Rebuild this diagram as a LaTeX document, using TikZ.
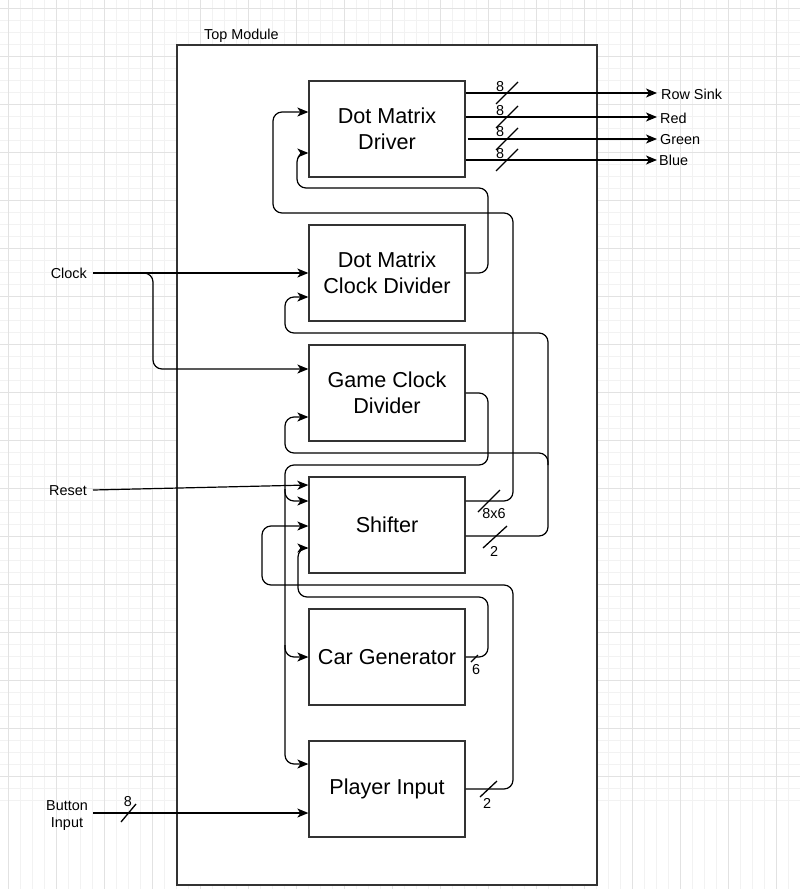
\documentclass[tikz,border=0pt]{standalone}
\usepackage{fontspec}
\setmainfont{Liberation Sans}
\usetikzlibrary{arrows.meta}
\definecolor{gridminor}{HTML}{F2F2F2}
\definecolor{gridmajor}{HTML}{E2E2E2}
\definecolor{boxline}{HTML}{333333}
\tikzset{
  blk/.style={draw=boxline, line width=1.3pt, fill=white, minimum width=156pt, minimum height=96pt, inner sep=0pt, align=center, font=\fontsize{21.6}{25.5}\selectfont},
  lbl/.style={font=\fontsize{14.4}{17}\selectfont, inner sep=0pt},
  wire/.style={line width=1.2pt, rounded corners=9pt},
  arr/.style={wire, -{Stealth[length=11pt,width=9pt,inset=3pt]}},
  bus/.style={line width=1.3pt}
}
\begin{document}
\begin{tikzpicture}[x=1pt,y=-1pt]
\useasboundingbox (0,0) rectangle (800,889);
\fill[white] (0,0) rectangle (800,889);
% grid
\foreach \g in {8,20,...,800} {
  \draw[gridminor, line width=0.8pt] (\g,0) -- (\g,889);
  \draw[gridminor, line width=0.8pt] (0,\g) -- (800,\g);
}
\foreach \g in {8,56,...,800} {
  \draw[gridmajor, line width=1pt] (\g,0) -- (\g,889);
  \draw[gridmajor, line width=1pt] (0,\g) -- (800,\g);
}
% module
\node (top) [draw=boxline, line width=1.3pt, fill=white, minimum width=420pt, minimum height=840pt, inner sep=0pt] at (387,465) {};
\node (toplbl) [lbl, anchor=base west] at (204,39) {Top Module};
% blocks
\node (dmd) [blk] at (387,129) {Dot Matrix\\Driver};
\node (dmcd) [blk] at (387,273) {Dot Matrix\\Clock Divider};
\node (gcd) [blk] at (387,393) {Game Clock\\Divider};
\node (sh) [blk] at (387,525) {Shifter};
\node (cg) [blk] at (387,657) {Car Generator};
\node (pl) [blk] at (387,789) {Player Input};
% external labels
\node (clk) [lbl, anchor=base east] at (87,278) {Clock};
\node (rst) [lbl, anchor=base east] at (87,495) {Reset};
\node (btn1) [lbl, anchor=base] at (67,810) {Button};
\node (btn2) [lbl, anchor=base] at (67,827) {Input};
\node (rs) [lbl, anchor=base west] at (661,99) {Row Sink};
\node (red) [lbl, anchor=base west] at (660,123) {Red};
\node (grn) [lbl, anchor=base west] at (660,144) {Green};
\node (blu) [lbl, anchor=base west] at (659,165) {Blue};
% junction coordinates
\coordinate (jclk) at (140,273);
\coordinate (jgs) at (285,489);
\coordinate (jgc) at (285,645);
\coordinate (jsh) at (548,465);
% DMD outputs
\draw[arr] (dmd.east |- 0,93) -- ([xshift=-4pt]rs.west |- 0,93);
\draw[arr] (dmd.east |- 0,117) -- ([xshift=-3pt]red.west |- 0,117);
\draw[arr] ([xshift=2pt]dmd.east |- 0,139) -- ([xshift=-3pt]grn.west |- 0,139);
\draw[arr] (dmd.east |- 0,160) -- ([xshift=-2pt]blu.west |- 0,160);
\foreach \yy in {93,117,139,160} {
  \draw[bus] (496,\yy+11) -- (518,\yy-11);
}
\node (b1) [lbl] at (500,87) {8};
\node (b2) [lbl] at (500,111) {8};
\node (b3) [lbl] at (500,132) {8};
\node (b4) [lbl] at (500,154) {8};
% Clock
\draw[arr] ([xshift=6pt]clk.east |- 0,273) -- (dmcd.west |- 0,273);
\draw[arr] (jclk) -- (153,273) -- (153,369) -- (gcd.west |- 0,369);
% DMCD -> DMD
\draw[arr] (dmcd.east |- 0,273) -- (488,273) -- (488,188) -- (297,188) -- (297,153) -- (dmd.west |- 0,153);
% Shifter 8x6 -> DMD
\draw[arr] (sh.east |- 0,501) -- (513,501) -- (513,213) -- (273,213) -- (273,112) -- (dmd.west |- 0,112);
\draw[bus] (478,512) -- (500,490);
\node (l8x6) [lbl] at (494,514) {8x6};
% Shifter 2 -> DMCD, GCD
\draw[arr] (sh.east |- 0,536) -- (548,536) -- (548,333) -- (285,333) -- (285,297) -- (dmcd.west |- 0,297);
\draw[arr] (jsh) -- (548,453) -- (285,453) -- (285,417) -- (gcd.west |- 0,417);
\draw[bus] (483,548) -- (507,526);
\node (l2a) [lbl] at (494,551) {2};
% GCD -> Player, Shifter, CarGen
\draw[arr] (gcd.east |- 0,393) -- (488,393) -- (488,465) -- (285,465) -- (285,764) -- (pl.west |- 0,764);
\draw[arr] (jgs) -- (285,501) -- (sh.west |- 0,501);
\draw[arr] (jgc) -- (285,657) -- (cg.west);
% Reset
\draw[arr] ([xshift=6pt]rst.east |- 0,490) -- (sh.west |- 0,485);
% Player -> Shifter
\draw[arr] (pl.east |- 0,789) -- (513,789) -- (513,585) -- (262,585) -- (262,526) -- (sh.west |- 0,526);
\draw[bus] (480,797) -- (497,781);
\node (l2b) [lbl] at (487,803) {2};
% CarGen -> Shifter
\draw[arr] (cg.east) -- (488,657) -- (488,597) -- (298,597) -- (298,548) -- (sh.west |- 0,548);
\draw[bus] (471,662) -- (478,655);
\node (l6) [lbl] at (476,670) {6};
% Button
\draw[arr] ([xshift=5pt]btn1.east |- 0,813) -- (pl.west |- 0,813);
\draw[bus] (121,822) -- (136,804);
\node (l8) [lbl] at (128,802) {8};
\end{tikzpicture}
\end{document}
